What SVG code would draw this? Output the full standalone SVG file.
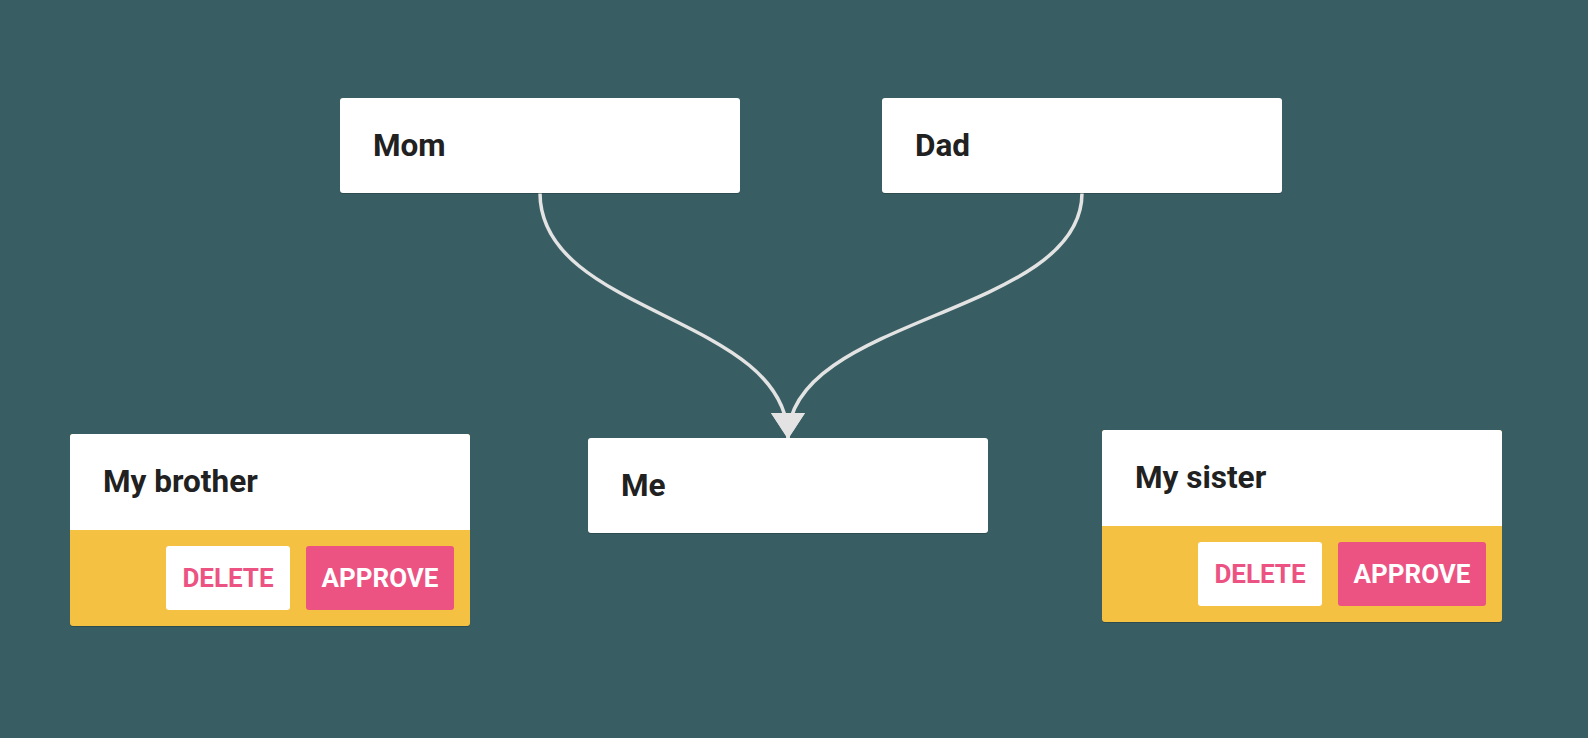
<svg xmlns="http://www.w3.org/2000/svg" width="1588" height="738" viewBox="0 0 1588 738">
<style>
.card{fill:#ffffff}
.foot{fill:#f5c143}
.title{font-family:Roboto,"Liberation Sans",sans-serif;font-weight:700;font-size:31.5px;fill:#212121}
.btn{font-family:Roboto,"Liberation Sans",sans-serif;font-weight:700;font-size:26px;text-anchor:middle}
.del{fill:#ffffff}
.deltxt{fill:#ec5282}
.app{fill:#ec5282}
.apptxt{fill:#ffffff}
.shadow{fill:#1f3a3d;opacity:0.5}
.edge{fill:none;stroke:#e3e3e3;stroke-width:3.5}
</style>
<defs>
<marker id="arrow" markerUnits="userSpaceOnUse" markerWidth="26" markerHeight="34" viewBox="0 0 26 34" refX="25" refY="17" orient="auto">
<path d="M0,0 L26,17 L0,34 Z" fill="#e3e3e3"/>
</marker>
</defs>
<rect width="1588" height="738" fill="#385e63"/>
<g id="connectors">
<path class="edge" d="M540,193 C540,315.5 788,315.5 788,438" marker-end="url(#arrow)"/>
<path class="edge" d="M1082,193 C1082,315.5 788,315.5 788,438" marker-end="url(#arrow)"/>
</g>
<g id="node-mom">
<rect class="shadow" x="340" y="99" width="400" height="95" rx="3"/>
<rect class="card" x="340" y="98" width="400" height="95" rx="3"/>
<text class="title" x="373" y="156">Mom</text>
</g>
<g id="node-dad">
<rect class="shadow" x="882" y="99" width="400" height="95" rx="3"/>
<rect class="card" x="882" y="98" width="400" height="95" rx="3"/>
<text class="title" x="915" y="156">Dad</text>
</g>
<g id="node-me">
<rect class="shadow" x="588" y="439" width="400" height="95" rx="3"/>
<rect class="card" x="588" y="438" width="400" height="95" rx="3"/>
<text class="title" x="621" y="496">Me</text>
</g>
<g id="node-brother">
<rect class="shadow" x="70" y="435" width="400" height="192" rx="3"/>
<rect class="foot" x="70" y="434" width="400" height="192" rx="3"/>
<path class="card" d="M73,434 H467 A3,3 0 0 1 470,437 V530 H70 V437 A3,3 0 0 1 73,434 Z"/>
<text class="title" x="103" y="492">My brother</text>
<rect class="del" x="166" y="546" width="124" height="64" rx="3"/>
<text class="btn deltxt" x="228" y="586.5">DELETE</text>
<rect class="app" x="306" y="546" width="148" height="64" rx="3"/>
<text class="btn apptxt" x="380" y="586.5">APPROVE</text>
</g>
<g id="node-sister">
<rect class="shadow" x="1102" y="431" width="400" height="192" rx="3"/>
<rect class="foot" x="1102" y="430" width="400" height="192" rx="3"/>
<path class="card" d="M1105,430 H1499 A3,3 0 0 1 1502,433 V526 H1102 V433 A3,3 0 0 1 1105,430 Z"/>
<text class="title" x="1135" y="488">My sister</text>
<rect class="del" x="1198" y="542" width="124" height="64" rx="3"/>
<text class="btn deltxt" x="1260" y="582.5">DELETE</text>
<rect class="app" x="1338" y="542" width="148" height="64" rx="3"/>
<text class="btn apptxt" x="1412" y="582.5">APPROVE</text>
</g>
</svg>
